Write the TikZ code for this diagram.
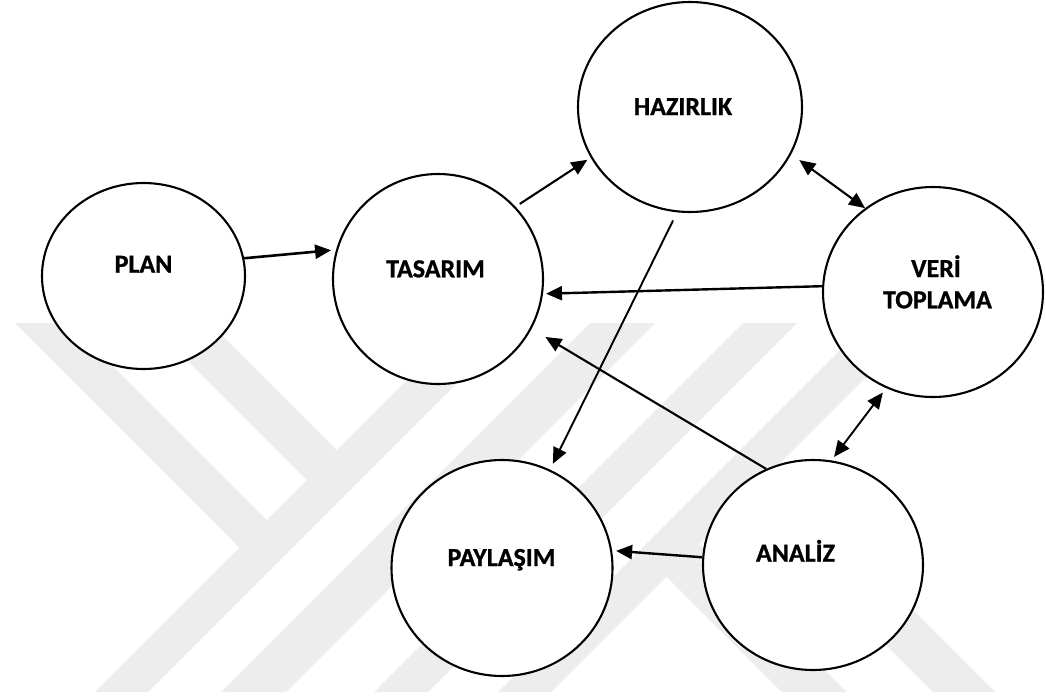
\documentclass[tikz,border=0pt]{standalone}
\usepackage{fontspec}
\setmainfont{Carlito}[BoldFeatures={FakeBold=1}]
\usetikzlibrary{arrows.meta,shapes.geometric}

\begin{document}
\begin{tikzpicture}[x=1pt,y=-1pt,
  stage/.style={draw, ellipse, line width=2.1pt, fill=white, inner sep=0pt},
  lbl/.style={font=\bfseries\fontsize{26}{31}\selectfont, anchor=base, inner sep=0pt},
  link/.style={line width=2.1pt, -{Triangle[length=16pt,width=14pt]}},
  biglink/.style={line width=2.1pt, {Triangle[length=16pt,width=14pt]}-{Triangle[length=16pt,width=14pt]}},
  wmark/.style={fill=black!7, draw=none}]

% page
\fill[white] (0,0) rectangle (1046,697);
\useasboundingbox (0,0) rectangle (1046,697);

% light background emblem
\fill[wmark] (464,323) -- (517,323) -- (148,692) -- (95,692) -- cycle;
\fill[wmark] (590,323) -- (655,323) -- (286,692) -- (221,692) -- cycle;
\fill[wmark] (743,323) -- (797,323) -- (428,692) -- (374,692) -- cycle;
\fill[wmark] (867,323) -- (920,323) -- (551,692) -- (498,692) -- cycle;
\fill[wmark] (15,323) -- (70,323) -- (267,520) -- (239.5,547.5) -- cycle;
\fill[wmark] (150,323) -- (210,323) -- (337,450) -- (307,480) -- cycle;
\fill[wmark] (666.5,576.5) -- (699,544) -- (847,692) -- (782,692) -- cycle;
\fill[wmark] (742,501) -- (773,470) -- (995,692) -- (933,692) -- cycle;

% stages
\node[stage, minimum width=203pt, minimum height=186pt] (plan) at (143.5,276) {};
\node[stage, minimum width=210pt, minimum height=210pt] (tasarim) at (438,279) {};
\node[stage, minimum width=224pt, minimum height=210pt] (hazirlik) at (690,107) {};
\node[stage, minimum width=220pt, minimum height=210pt] (veri) at (933,292) {};
\node[stage, minimum width=221pt, minimum height=216pt] (paylasim) at (502,568) {};
\node[stage, minimum width=220pt, minimum height=210pt] (analiz) at (813,565) {};

% labels
\node[lbl] (tplan) at (143.5,272.7) {PLAN};
\node[lbl] (ttasarim) at (435.5,277.3) {TASARIM};
\node[lbl] (thazirlik) at (683,115) {HAZIRLIK};
\node[lbl] (tveri) at (936,277) {VERİ};
\node[lbl] (ttoplama) at (937.5,308.3) {TOPLAMA};
\node[lbl] (tpaylasim) at (501.5,566) {PAYLAŞIM};
\node[lbl] (tanaliz) at (795.5,561.7) {ANALİZ};

% flow between stages
\draw[link, line width=2.6pt, shorten >=5pt] (plan.10) -- (tasarim.164);
\draw[link, shorten <=5pt, shorten >=4pt] (tasarim.43.5) -- (hazirlik.-153.7);
\draw[biglink, shorten <=10pt] (hazirlik.-25.5) -- (veri.129.6);
\draw[link, line width=2.4pt, shorten >=3pt] (veri.177) -- (tasarim.-8.5);
\draw[link, line width=1.9pt, shorten <=9pt, shorten >=6.5pt] (hazirlik.-97) -- (paylasim.64.8);
\draw[link, shorten >=16pt] (analiz.116.8) -- (tasarim.-28.7);
\draw[biglink, line width=1.9pt, shorten <=5.5pt, shorten >=4.4pt] (veri.-116.1) -- (analiz.80.5);
\draw[link, line width=2.4pt, shorten >=4pt] (analiz.176.8) -- (paylasim.9);
\end{tikzpicture}
\end{document}
